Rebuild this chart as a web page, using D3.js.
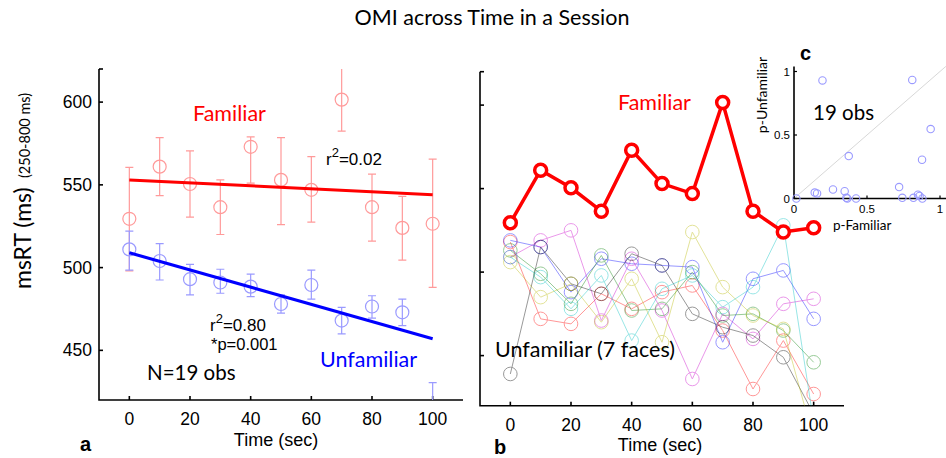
<!DOCTYPE html>
<html>
<head>
<meta charset="utf-8">
<script src="https://cdn.jsdelivr.net/npm/d3@7"></script>
<style>
  body { margin: 0; background: #fff; }
  svg { display: block; }
  .tick_lbl { font-family: "Liberation Sans", Arial, sans-serif; fill: #000; }
  .cal { font-family: Lato, "Noto Sans", sans-serif; }
</style>
</head>
<body>
<svg id="graph" width="946" height="458"></svg>
<script>
// ---- data ----
let time = [0, 10, 20, 30, 40, 50, 60, 70, 80, 90, 100];

let famMean = [529.5, 561, 550.5, 536.5, 573, 553, 547, 601.5, 536.5, 524, 526.5];
let famLo   = [498, 543.5, 530.5, 520, 551, 526, 527.5, 582.5, 516, 504.5, 488];
let famHi   = [560.5, 578.5, 570.5, 553, 579, 578.5, 567, 620.5, 556.5, 543, 565.5];

let unfMean = [511, 504, 493, 491, 488.5, 478, 489.5, 468, 476.5, 473, 414];
let unfLo   = [498.5, 492.5, 483.5, 484.5, 482.5, 472.5, 481, 460, 469.5, 465, 398];
let unfHi   = [522, 514.5, 502, 499, 496, 483.5, 498.5, 476, 483, 481, 430.5];

let fitX = [0, 100];
let famFit = [553, 544];
let unfFit = [509, 457];

// individual unfamiliar faces (panel b)
let faceRed     = [518, 472, 469, 487, 478, 488, 492, 465, 430, 459, 427];
let faceBlue    = [519, 515, 488, 508, 505, 504, 503, 458, 496, 501, 472];
let faceGreen   = [513, 499, 481, 510, 477, 478, 500, 474, 475, 465, 446];
let faceMagenta = [509, 519, 525, 471, 508, 477, 436, 475, 460, 481, 484];
let faceGray    = [439, 515, 493, 487, 511, 504, 475, 467, 462, 449, 415];
let faceYellow  = [506, 485, 493, 470, 496, 458, 524, 491, 474, 466, 400];
let faceCyan    = [509, 497, 478, 498, 459, 490, 498, 479, 491, 528, 410];

// inset c
let pFam = [0.195, 0.81, 0.936, 0.877, 0.375, 0.016, 0.142, 0.158, 0.267, 0.347,
            0.359, 0.365, 0.425, 0.72, 0.742, 0.818, 0.849, 0.879, 0.86];
let pUnf = [0.93, 0.934, 0.547, 0.305, 0.334, 0, 0.047, 0.04, 0.071, 0.058,
            0.005, 0, 0, 0.09, 0.005, 0.005, 0.03, 0, 0.02];

let yTicks = [450, 500, 550, 600];
let xTicks = [0, 20, 40, 60, 80, 100];
let pTicks = [0, 0.5, 1];

// ---- setup ----
let svg = d3.select("#graph");
let defs = svg.append("defs");

let xA = d3.scaleLinear().domain([-10, 110]).range([99, 463]);
let yA = d3.scaleLinear().domain([420, 620]).range([400, 69]);
let xB = d3.scaleLinear().domain([-10, 110]).range([480, 844]);
let yB = d3.scaleLinear().domain([420, 620]).range([405.7, 71.7]);
let xC = d3.scaleLinear().domain([0, 1]).range([794, 940]);
let yC = d3.scaleLinear().domain([0, 1]).range([198.5, 71.5]);

function clip(id, x, y) {
    defs.append("clipPath").attr("id", id)
        .append("rect")
        .attr("x", x.range()[0]).attr("y", y.range()[1])
        .attr("width", x.range()[1] - x.range()[0])
        .attr("height", y.range()[0] - y.range()[1]);
}
clip("clipA", xA, yA);
clip("clipB", xB, yB);

function axes(x, y, labelsY) {
    let g = svg.append("g");
    let x0 = x.range()[0], y0 = y.range()[0];
    g.append("path")
        .attr("d", `M${x0},${y.range()[1]}V${y0}H${x.range()[1]}`)
        .attr("fill", "none").attr("stroke", "#000").attr("stroke-width", 1.6);
    g.append("path")
        .attr("d", `M${x0},${y.range()[1]}h4`)
        .attr("stroke", "#000").attr("stroke-width", 1.6);
    g.selectAll(".yt").data(yTicks).enter().append("line")
        .attr("x1", x0).attr("x2", x0 + 4)
        .attr("y1", d => y(d)).attr("y2", d => y(d))
        .attr("stroke", "#000").attr("stroke-width", 1.6);
    g.selectAll(".xt").data(xTicks).enter().append("line")
        .attr("x1", d => x(d)).attr("x2", d => x(d))
        .attr("y1", y0).attr("y2", y0 - 4)
        .attr("stroke", "#000").attr("stroke-width", 1.6);
    g.selectAll(".xl").data(xTicks).enter().append("text")
        .attr("class", "tick_lbl").attr("font-size", 17.5)
        .attr("x", d => x(d)).attr("y", y0 + 25)
        .attr("text-anchor", "middle")
        .text(d => d);
    if (labelsY) {
        g.selectAll(".yl").data(yTicks).enter().append("text")
            .attr("class", "tick_lbl").attr("font-size", 17.5)
            .attr("x", x0 - 7).attr("y", d => y(d) + 6)
            .attr("text-anchor", "end")
            .text(d => d);
    }
}

// ---- title ----
svg.append("text").attr("class", "cal")
    .attr("x", 492).attr("y", 25).attr("text-anchor", "middle")
    .attr("font-size", 21.5).text("OMI across Time in a Session");

// ---- panel a ----
axes(xA, yA, true);
let pa = svg.append("g").attr("clip-path", "url(#clipA)");

function errSeries(g, mean, lo, hi, color) {
    g.selectAll(null).data(time).enter().append("path")
        .attr("d", (d, i) => `M${xA(d)},${yA(lo[i])}V${yA(hi[i])}` +
            `M${xA(d) - 4},${yA(lo[i])}h8M${xA(d) - 4},${yA(hi[i])}h8`)
        .attr("stroke", color).attr("stroke-width", 1.2).attr("fill", "none");
    g.selectAll(null).data(time).enter().append("circle")
        .attr("cx", d => xA(d)).attr("cy", (d, i) => yA(mean[i]))
        .attr("r", 6.5).attr("fill", "none")
        .attr("stroke", color).attr("stroke-width", 1.2);
}
errSeries(pa, famMean, famLo, famHi, "#ff9a9a");
errSeries(pa, unfMean, unfLo, unfHi, "#9a9aff");

let fitLine = d3.line().x((d, i) => xA(fitX[i])).y(d => yA(d));
pa.append("path").attr("d", fitLine(famFit))
    .attr("stroke", "#ff0000").attr("stroke-width", 3).attr("fill", "none");
pa.append("path").attr("d", fitLine(unfFit))
    .attr("stroke", "#0000ff").attr("stroke-width", 3).attr("fill", "none");

svg.append("text").attr("class", "cal").attr("x", 193).attr("y", 121)
    .attr("font-size", 21.5).attr("fill", "#ff0000").text("Familiar");
svg.append("text").attr("class", "cal").attr("x", 320).attr("y", 367)
    .attr("font-size", 21.5).attr("fill", "#0000ff").text("Unfamiliar");
svg.append("text").attr("class", "cal").attr("x", 147).attr("y", 380)
    .attr("font-size", 20.5).text("N=19 obs");

function rText(x, y, val) {
    let t = svg.append("text").attr("class", "tick_lbl").attr("font-size", 17)
        .attr("x", x).attr("y", y);
    t.append("tspan").text("r");
    t.append("tspan").attr("dy", -8).attr("font-size", 13).text("2");
    t.append("tspan").attr("dy", 8).text("=" + val);
    return t;
}
rText(326, 165, "0.02");
rText(210, 331, "0.80");
svg.append("text").attr("class", "tick_lbl").attr("font-size", 16.5)
    .attr("x", 211).attr("y", 349.5).text("*p=0.001");

svg.append("text").attr("class", "cal").attr("font-size", 23)
    .attr("transform", "translate(31,289) rotate(-90)")
    .text("msRT (ms)");
svg.append("text").attr("class", "cal").attr("font-size", 14.5)
    .attr("transform", "translate(30,178) rotate(-90)")
    .text("(250-800 ms)");

svg.append("text").attr("class", "tick_lbl").attr("font-size", 18)
    .attr("x", 276).attr("y", 446)
    .attr("text-anchor", "middle").text("Time (sec)");
svg.append("text").attr("class", "tick_lbl").attr("x", 80).attr("y", 451)
    .attr("font-weight", "bold").attr("font-size", 20).text("a");

// ---- panel b ----
axes(xB, yB, false);
let pb = svg.append("g").attr("clip-path", "url(#clipB)");

let faces = [
    {vals: faceRed, color: "#ff0000"},
    {vals: faceBlue, color: "#0000ff"},
    {vals: faceGreen, color: "#008000"},
    {vals: faceMagenta, color: "#cc00cc"},
    {vals: faceGray, color: "#000000"},
    {vals: faceYellow, color: "#b8b800"},
    {vals: faceCyan, color: "#00c0c0"}
];
let lineB = d3.line().x((d, i) => xB(time[i])).y(d => yB(d));

faces.forEach(f => {
    let g = pb.append("g").attr("opacity", 0.4);
    g.append("path").attr("d", lineB(f.vals))
        .attr("stroke", f.color).attr("stroke-width", 1).attr("fill", "none");
    g.selectAll(null).data(f.vals).enter().append("circle")
        .attr("cx", (d, i) => xB(time[i])).attr("cy", d => yB(d))
        .attr("r", 6.8).attr("fill", "none")
        .attr("stroke", f.color).attr("stroke-width", 1);
});

pb.append("path").attr("d", lineB(famMean))
    .attr("stroke", "#ff0000").attr("stroke-width", 3.5).attr("fill", "none");
pb.selectAll(".famc").data(famMean).enter().append("circle")
    .attr("cx", (d, i) => xB(time[i])).attr("cy", d => yB(d))
    .attr("r", 6).attr("fill", "#fff")
    .attr("stroke", "#ff0000").attr("stroke-width", 3.5);

svg.append("text").attr("class", "cal").attr("x", 618).attr("y", 110)
    .attr("font-size", 21.5).attr("fill", "#ff0000").text("Familiar");
svg.append("text").attr("class", "cal").attr("x", 495).attr("y", 357)
    .attr("font-size", 21.5).text("Unfamiliar (7 faces)");

svg.append("text").attr("class", "tick_lbl").attr("font-size", 18)
    .attr("x", 660).attr("y", 451)
    .attr("text-anchor", "middle").text("Time (sec)");
svg.append("text").attr("class", "tick_lbl").attr("x", 494).attr("y", 454)
    .attr("font-weight", "bold").attr("font-size", 20).text("b");

// ---- inset c ----
let gc = svg.append("g");
gc.append("line")
    .attr("x1", xC(0)).attr("y1", yC(0)).attr("x2", xC(1.04)).attr("y2", yC(1.04))
    .attr("stroke", "#d8d8d8").attr("stroke-width", 1);
gc.append("path")
    .attr("d", `M${xC(0)},${yC(1.04)}V${yC(0)}H946`)
    .attr("fill", "none").attr("stroke", "#000").attr("stroke-width", 1.6);
gc.selectAll(".cyt").data(pTicks).enter().append("line")
    .attr("x1", xC(0)).attr("x2", xC(0) + 3)
    .attr("y1", d => yC(d)).attr("y2", d => yC(d))
    .attr("stroke", "#000").attr("stroke-width", 1.2);
gc.selectAll(".cxt").data(pTicks).enter().append("line")
    .attr("x1", d => xC(d)).attr("x2", d => xC(d))
    .attr("y1", yC(0)).attr("y2", yC(0) - 3)
    .attr("stroke", "#000").attr("stroke-width", 1.2);
gc.selectAll(".cyl").data(pTicks).enter().append("text")
    .attr("class", "tick_lbl").attr("font-size", 11.5)
    .attr("x", xC(0) - 4).attr("y", d => yC(d) + 4)
    .attr("text-anchor", "end").text(d => d);
gc.selectAll(".cxl").data(pTicks).enter().append("text")
    .attr("class", "tick_lbl").attr("font-size", 11.5)
    .attr("x", d => xC(d)).attr("y", yC(0) + 14)
    .attr("text-anchor", "middle").text(d => d);
gc.selectAll(".pt").data(pFam).enter().append("circle")
    .attr("cx", d => xC(d)).attr("cy", (d, i) => yC(pUnf[i]))
    .attr("r", 3.7).attr("fill", "none")
    .attr("stroke", "#9a9aff").attr("stroke-width", 1.1);

svg.append("text").attr("class", "cal").attr("x", 813).attr("y", 120)
    .attr("font-size", 20.5).text("19 obs");
svg.append("text").attr("class", "cal").attr("x", 833).attr("y", 229.5)
    .attr("font-size", 13.5).text("p-Familiar");
svg.append("text").attr("class", "cal").attr("font-size", 14)
    .attr("transform", "translate(767,95) rotate(-90)")
    .attr("text-anchor", "middle").text("p-Unfamiliar");
svg.append("text").attr("class", "tick_lbl").attr("x", 800).attr("y", 60)
    .attr("font-weight", "bold").attr("font-size", 20).text("c");
</script>
</body>
</html>
